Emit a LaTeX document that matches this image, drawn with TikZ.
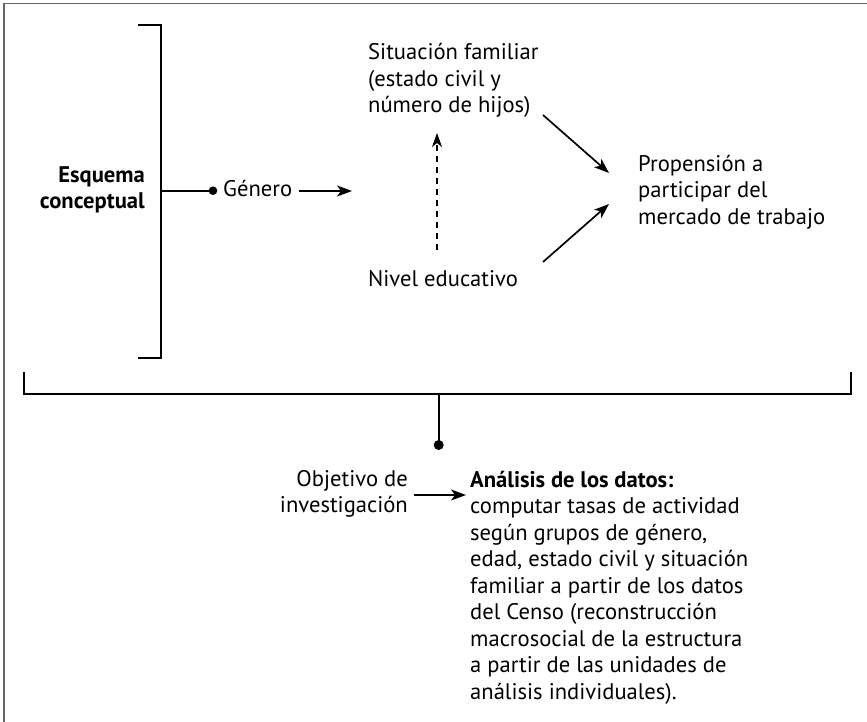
\documentclass[tikz,border=0pt]{standalone}
\usepackage{fontspec}
\setmainfont{PT Sans}
\usetikzlibrary{arrows.meta}
\begin{document}
\begin{tikzpicture}[x=1pt,y=-1pt,
  txt/.style={inner sep=0pt, font=\fontsize{22.6}{26.5}\selectfont},
  brk/.style={line width=2.6pt, line cap=rect},
  arr/.style={line width=1.7pt, -{Stealth[length=15pt,width=11pt,inset=4pt]}},
  darr/.style={line width=1.3pt, dash pattern=on 6pt off 5pt, -{Stealth[length=14pt,width=10pt,inset=4pt]}},
  frame/.style={line width=1.6pt, draw=black!60}]
\useasboundingbox (0,0) rectangle (867,722);
% frame (top and left edges)
\coordinate (f1) at (3.7,722);
\coordinate (f2) at (3.7,3.5);
\coordinate (f3) at (867,3.5);
\draw[frame] (f1) -- (f2) -- (f3);
% left bracket
\coordinate (lb1) at (139,25);
\coordinate (lb2) at (161,25);
\coordinate (lb3) at (161,358);
\coordinate (lb4) at (139,358);
\draw[brk] (lb1) -- (lb2) -- (lb3) -- (lb4);
\coordinate (lbm) at (161,190.7);
\coordinate (dot1) at (213,190.7);
\draw[line width=2pt] (lbm) -- (dot1);
\fill (dot1) circle (4.3pt);
% texts
\node[txt, anchor=base east, align=right, font=\fontsize{22.6}{25.6}\selectfont\bfseries] (esq) at (145,208.3) {Esquema\\conceptual};
\node[txt, anchor=base west] (gen) at (223,196.7) {Género};
\node[txt, anchor=base west, align=left] (sit) at (368,113) {Situación familiar\\(estado civil y\\número de hijos)};
\node[txt, anchor=base west] (niv) at (368,286.7) {Nivel educativo};
\node[txt, anchor=base west, align=left] (prop) at (638,224) {Propensión a\\participar del\\mercado de trabajo};
% arrows top
\coordinate (g1) at (299,191);
\coordinate (g2) at (352,191);
\draw[arr] (g1) -- (g2);
\coordinate (d1) at (437,250);
\coordinate (d2) at (437,133);
\draw[darr] (d1) -- (d2);
\coordinate (s1) at (543,115);
\coordinate (s2) at (609,173);
\draw[arr] (s1) -- (s2);
\coordinate (n1) at (543,262);
\coordinate (n2) at (609,204);
\draw[arr] (n1) -- (n2);
% long bracket
\coordinate (bb1) at (24,373);
\coordinate (bb2) at (24,394);
\coordinate (bb3) at (851,394);
\coordinate (bb4) at (851,373);
\draw[brk] (bb1) -- (bb2) -- (bb3) -- (bb4);
\coordinate (st1) at (438.7,394);
\coordinate (dot2) at (438.7,445);
\draw[line width=2pt] (st1) -- (dot2);
\fill (dot2) circle (5pt);
% bottom texts
\node[txt, anchor=base east, align=right] (obj) at (408,512.7) {Objetivo de\\investigación};
\node[txt, anchor=base west, align=left] (ana) at (470,699) {\textbf{Análisis de los datos:}\\computar tasas de actividad\\según grupos de género,\\edad, estado civil y situación\\familiar a partir de los datos\\del Censo (reconstrucción\\macrosocial de la estructura\\a partir de las unidades de\\análisis individuales).};
\coordinate (o1) at (414,495);
\coordinate (o2) at (466,495);
\draw[arr, line width=1.5pt] (o1) -- (o2);
\end{tikzpicture}
\end{document}
